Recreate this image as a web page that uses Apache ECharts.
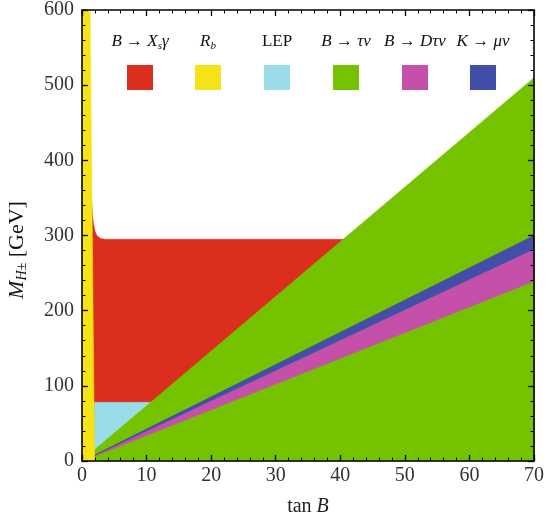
<!DOCTYPE html>
<html><head><meta charset="utf-8">
<script src="https://cdn.jsdelivr.net/npm/echarts@6/dist/echarts.min.js"></script>
<style>html,body{margin:0;padding:0;background:#fff}#c{width:547px;height:522px}</style>
</head><body><div id="c"></div>
<script>
// ---- data (tan beta, M_H± in GeV) ----
const rbEdge = [[1.95, 0], [1.25, 600]];                 // R_b excluded left of this line
const bsgTop = [[1.5, 345], [1.6, 330], [1.75, 318], [2.0, 306], [2.3, 300], [2.8, 296.5], [3.5, 295], [70, 295]];
const lepTop = [[1.9, 78], [70, 78]];
const btaunuTop = [[1.95, 15], [70, 510]];
const bdtaunuLow = [[2.0, 6.5], [70, 239]];
const bdtaunuHigh = [[2.0, 7.5], [70, 282]];
const kmunuHigh = [[2.0, 8.2], [70, 300]];

const legendLabels = ['{i|B} → {i|X}{s|s}{i|γ}', '{i|R}{s|b}', 'LEP', '{i|B} → {i|τν}', '{i|B} → {i|Dτν}', '{i|K} → {i|μν}'];
const legendColors = ['#DC2E1D', '#F5E316', '#9ADDE8', '#75C300', '#C450AA', '#434EA8'];

// ---- polygons built from data ----
const F = 'Liberation Serif';
const polyRed = bsgTop.concat([[70, 0], [bsgTop[0][0], 0]]);
const polyLep = [[lepTop[0][0], 0]].concat(lepTop, [[70, 0]]);
const polyGreen = [[btaunuTop[0][0], 0]].concat(btaunuTop, [[70, 0]]);
const polyMag = bdtaunuLow.concat(bdtaunuHigh.slice().reverse());
const polyBlue = bdtaunuHigh.concat(kmunuHigh.slice().reverse());
const polyYellow = [[0, 0], [0, 600]].concat(rbEdge.slice().reverse());

function region(poly, color) {
  return {
    type: 'custom', data: poly, encode: {x: 0, y: 1}, silent: true,
    renderItem: function (params, api) {
      if (params.dataIndex !== 0) return null;
      return {type: 'polygon', shape: {points: poly.map(p => api.coord(p))},
              style: {fill: color, stroke: color, lineWidth: 0.5}};
    }
  };
}

const rich = {
  i: {fontStyle: 'italic', fontFamily: F, fontSize: 17, fill: '#111'},
  s: {fontStyle: 'italic', fontFamily: F, fontSize: 11, fill: '#111', padding: [9, 0, 0, 0]}
};

const legendX = [140, 208, 277, 346, 415, 483];
const graphics = [];
legendLabels.forEach((t, k) => {
  graphics.push({type: 'text', x: legendX[k], y: 42, z: 20,
    style: {text: t, align: 'center', verticalAlign: 'middle', fontFamily: F, fontSize: 17, fill: '#111', rich: rich}});
  graphics.push({type: 'rect', shape: {x: legendX[k] - 13, y: 65, width: 26, height: 25}, z: 20,
    style: {fill: legendColors[k]}});
});
graphics.push({type: 'text', x: 17, y: 250, rotation: Math.PI / 2, z: 20,
  style: {text: '{m|M}{h|H±} [GeV]', align: 'center', verticalAlign: 'middle', fontFamily: F, fontSize: 22, fill: '#111',
    rich: {m: {fontStyle: 'italic', fontFamily: F, fontSize: 22, fill: '#111'},
           h: {fontStyle: 'italic', fontFamily: F, fontSize: 14, fill: '#111', padding: [10, 0, 0, 0]}}}});

function xAx(pos, labels) {
  return {type: 'value', min: 0, max: 70, interval: 10, position: pos, z: 10,
    axisLine: {show: true, onZero: false, lineStyle: {color: '#000', width: 1.6}},
    axisTick: {show: true, inside: true, length: 6, lineStyle: {color: '#000', width: 1.3}},
    minorTick: {show: true, splitNumber: 5, length: 3.5, lineStyle: {color: '#000', width: 1}},
    axisLabel: {show: labels, fontFamily: F, fontSize: 20, color: '#333', margin: 5},
    splitLine: {show: false}, minorSplitLine: {show: false},
    name: labels ? 'tan {i|B}' : '', nameLocation: 'middle', nameGap: 36,
    nameTextStyle: {fontFamily: F, fontSize: 20, color: '#222',
      rich: {i: {fontStyle: 'italic', fontFamily: F, fontSize: 20, color: '#222'}}}};
}
function yAx(pos, labels) {
  return {type: 'value', min: 0, max: 600, interval: 100, position: pos, z: 10,
    axisLine: {show: true, onZero: false, lineStyle: {color: '#000', width: 1.6}},
    axisTick: {show: true, inside: true, length: 6, lineStyle: {color: '#000', width: 1.3}},
    minorTick: {show: true, splitNumber: 5, length: 3.5, lineStyle: {color: '#000', width: 1}},
    axisLabel: {show: labels, fontFamily: F, fontSize: 20, color: '#333', margin: 8},
    splitLine: {show: false}, minorSplitLine: {show: false}};
}

const chart = echarts.init(document.getElementById('c'), null, {renderer: 'canvas'});
chart.setOption({
  animation: false,
  backgroundColor: '#fff',
  grid: {left: 82, right: 10, top: 10, bottom: 59, containLabel: false},
  xAxis: [xAx('bottom', true), xAx('top', false)],
  yAxis: [yAx('left', true), yAx('right', false)],
  graphic: graphics,
  series: [
    region(polyRed, legendColors[0]),
    region(polyLep, legendColors[2]),
    region(polyGreen, legendColors[3]),
    region(polyMag, legendColors[4]),
    region(polyBlue, legendColors[5]),
    region(polyYellow, legendColors[1])
  ]
});
</script></body></html>
